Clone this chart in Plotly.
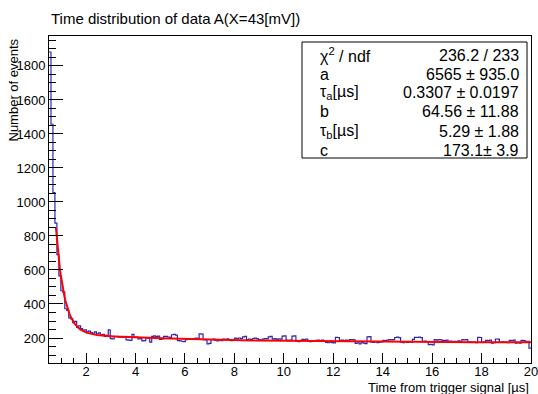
import numpy as np
import plotly.graph_objects as go

# ---------------- data ----------------
x_min, x_max = 0.5, 20.0
y_min, y_max = 53, 1976

counts = [
    1882, 1457, 1055, 875, 690, 565, 478, 470, 372, 362, 318, 312, 290, 298, 262, 272, 255, 246, 248, 236, 241,
    232, 228, 236, 225, 230, 219, 222, 210, 215, 248,
    196, 194, 210, 209, 205, 207, 203, 208, 189, 187,
    186, 221, 206, 205, 194, 196, 183, 185, 202, 199,
    176, 210, 212, 208, 211, 192, 195, 209, 210, 206,
    204, 219, 221, 217, 184, 183, 181, 179, 190, 193,
    196, 194, 197, 199, 198, 225, 223, 191, 189, 166,
    168, 190, 194, 186, 183, 189, 185, 193, 190, 195,
    187, 184, 188, 199, 196, 200, 197, 207, 209, 191,
    194, 190, 197, 199, 196, 190, 188, 193, 197, 195,
    207, 209, 193, 196, 192, 195, 193, 211, 213, 187,
    184, 188, 211, 212, 181, 179, 183, 192, 190, 194,
    181, 179, 183, 180, 186, 188, 184, 187, 185, 174,
    172, 176, 173, 171, 204, 203, 186, 188, 184, 187,
    185, 190, 191, 189, 168, 172, 166, 174, 170, 167,
    207, 208, 176, 174, 178, 173, 175, 177, 186, 185,
    188, 190, 189, 191, 203, 205, 202, 176, 173, 178,
    174, 177, 175, 192, 204, 203, 205, 202, 180, 182,
    179, 161, 163, 160, 190, 188, 191, 189, 186, 184,
    187, 180, 182, 179, 181, 178, 183, 180, 190, 189,
    191, 175, 177, 174, 176, 173, 204, 203, 175, 176,
    186, 185, 187, 170, 172, 194, 193, 175, 177, 174,
    176, 173, 186, 185, 187, 170, 172, 169, 186, 185,
    180, 181, 140,
]

# fit result shown in the stats box
fit_a, fit_a_err = 6565, 935.0
fit_tau_a, fit_tau_a_err = 0.3307, 0.0197
fit_b, fit_b_err = 64.56, 11.88
fit_tau_b, fit_tau_b_err = 5.29, 1.88
fit_c, fit_c_err = 173.1, 3.9
chi2, ndf = 236.2, 233
fit_start = 0.78

x_ticks = [2, 4, 6, 8, 10, 12, 14, 16, 18, 20]
y_ticks = [200, 400, 600, 800, 1000, 1200, 1400, 1600, 1800]

title_text = "Time distribution of data A(X=43[mV])"
x_title = "Time from trigger signal [µs]"
y_title = "Number of events"

# ---------------- figure ----------------
W, H = 538, 394
L, R, T, B = 49, 7, 36, 31
pw, ph = W - L - R, H - T - B

def px_x(px):
    return (px - L) / pw

def px_y(py):
    return (H - B - py) / ph

edges = np.linspace(x_min, x_max, len(counts) + 1)
hx = list(edges)
hy = list(counts) + [counts[-1]]

tf = np.linspace(fit_start, x_max, 500)
yf = fit_a * np.exp(-tf / fit_tau_a) + fit_b * np.exp(-tf / fit_tau_b) + fit_c

FONT = "Liberation Sans, Arial, Helvetica, sans-serif"

fig = go.Figure()
fig.add_trace(go.Scatter(x=hx, y=hy, mode="lines", line_shape="hv",
                         line=dict(color="rgb(40,40,185)", width=1.2),
                         hoverinfo="skip", showlegend=False))
fig.add_trace(go.Scatter(x=tf, y=yf, mode="lines",
                         line=dict(color="rgb(255,0,0)", width=2),
                         hoverinfo="skip", showlegend=False))

axis_common = dict(showline=True, linecolor="black", linewidth=1, mirror=True,
                   showgrid=False, zeroline=False, ticks="inside",
                   tickcolor="black", tickwidth=1, automargin=False,
                   tickfont=dict(family=FONT, size=13, color="black"))

fig.update_layout(
    width=W, height=H,
    margin=dict(l=L, r=R, t=T, b=B, pad=0, autoexpand=False),
    paper_bgcolor="white", plot_bgcolor="white",
    font=dict(family=FONT, color="black"),
    xaxis=dict(range=[x_min, x_max + 0.001], tickvals=x_ticks, ticklen=10,
               ticklabelstandoff=-4, ticklabeloverflow="allow",
               minor=dict(ticks="inside", dtick=0.5, tick0=0, ticklen=5,
                          tickcolor="black", tickwidth=1),
               **axis_common),
    yaxis=dict(range=[y_min, y_max], tickvals=y_ticks, ticklen=14,
               minor=dict(ticks="inside", dtick=50, tick0=0, ticklen=7,
                          tickcolor="black", tickwidth=1),
               **axis_common),
    showlegend=False,
)

ann = []
ann.append(dict(text=title_text, xref="paper", yref="paper", x=px_x(49), y=px_y(18),
                xanchor="left", yanchor="middle", showarrow=False,
                font=dict(family=FONT, size=15, color="black")))
ann.append(dict(text=x_title, xref="paper", yref="paper", x=px_x(531), y=px_y(387),
                xanchor="right", yanchor="middle", showarrow=False,
                font=dict(family=FONT, size=13, color="black")))
ann.append(dict(text=y_title, xref="paper", yref="paper", x=px_x(13), y=px_y(37),
                xanchor="center", yanchor="top", textangle=-90, showarrow=False,
                font=dict(family=FONT, size=13, color="black")))

# stats box
fig.add_shape(type="rect", xref="paper", yref="paper",
              x0=px_x(302), x1=px_x(527), y0=px_y(158), y1=px_y(42),
              line=dict(color="black", width=1), fillcolor="white", layer="above")

rows = [
    ("χ<sup>2</sup> / ndf", f"{chi2:.1f} / {ndf}"),
    ("a", f"{fit_a} ± {fit_a_err:.1f}"),
    ("τ<sub>a</sub>[µs]", f"{fit_tau_a:.4f} ± {fit_tau_a_err:.4f}"),
    ("b", f"{fit_b:.2f} ± {fit_b_err:.2f}"),
    ("τ<sub>b</sub>[µs]", f"{fit_tau_b:.2f} ± {fit_tau_b_err:.2f}"),
    ("c", f"{fit_c:.1f}± {fit_c_err:.1f}"),
]
row_y = np.linspace(55, 150, len(rows))
for (lab, val), ry in zip(rows, row_y):
    ann.append(dict(text=lab, xref="paper", yref="paper", x=px_x(318), y=px_y(ry),
                    xanchor="left", yanchor="middle", showarrow=False,
                    font=dict(family=FONT, size=16, color="black")))
    ann.append(dict(text=val, xref="paper", yref="paper", x=px_x(521), y=px_y(ry),
                    xanchor="right", yanchor="middle", showarrow=False,
                    font=dict(family=FONT, size=16, color="black")))

fig.update_layout(annotations=ann)

fig.write_html("out.html", config={"displayModeBar": False})
